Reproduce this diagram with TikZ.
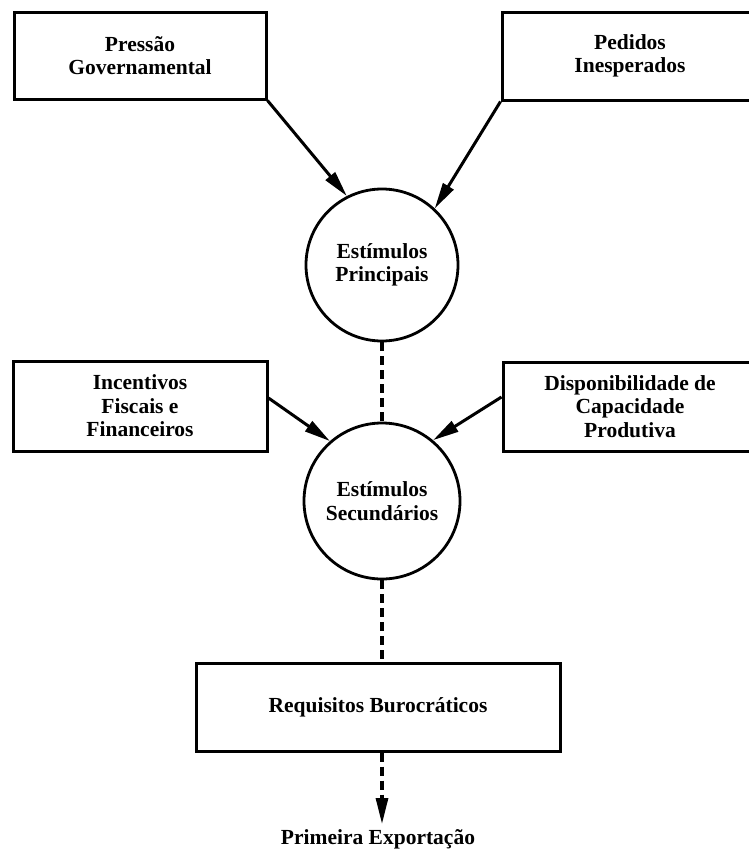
\documentclass[tikz,border=0pt]{standalone}
\usepackage{fontspec}
\setmainfont{Liberation Serif}
\usetikzlibrary{arrows.meta}
\begin{document}
\begin{tikzpicture}[x=1pt,y=-1pt,
  every node/.style={font=\fontsize{21.5}{23.5}\selectfont\bfseries, align=center, inner sep=0pt},
  box/.style={draw, line width=3pt, rectangle},
  stim/.style={draw, line width=2.8pt, circle},
  head/.style={-{Triangle[length=26pt,width=12pt]}},
  link/.style={line width=3pt, head},
  dashlink/.style={line width=3.4pt, dash pattern=on 9pt off 5pt}
]
\useasboundingbox (0,0) rectangle (748,852);

% upper row of sources
\node[box, minimum width=252pt, minimum height=87pt] (gov) at (140,55.5) {Pressão\\Governamental};
\node[box, minimum width=256pt, minimum height=88pt] (ped) at (630,56) {Pedidos\\Inesperados};

% main stimuli
\node[stim, minimum size=152pt] (princ) at (382,265) {Estímulos\\Principais};

% second row of sources
\node[box, minimum width=254pt, minimum height=90pt] (inc) at (140,406) {Incentivos\\Fiscais e\\Financeiros};
\node[box, minimum width=254pt, minimum height=89pt] (disp) at (630,406.5) {Disponibilidade de\\Capacidade\\Produtiva};

% secondary stimuli
\node[stim, minimum size=156pt] (sec) at (382,501) {Estímulos\\Secundários};

% bureaucracy and outcome
\node[box, minimum width=364pt, minimum height=88pt] (req) at (378,707) {Requisitos Burocráticos};
\node[anchor=base] (exp) at (378,844) {Primeira Exportação};
\coordinate (tip) at (382,824);
\coordinate (reqtop) at (sec.south |- req.north);
\coordinate (reqbot) at (sec.south |- req.south);

% connectors
\draw[link] (gov.south east) -- (princ.117);
\draw[link] (ped.south west) -- (princ.47);
\draw[link] ([yshift=8pt]inc.east) -- (sec.131);
\draw[link] ([yshift=9.5pt]disp.west) -- (sec.50);
\draw[dashlink] (princ.south) -- (sec.north);
\draw[dashlink] (sec.south) -- (reqtop);
\draw[dashlink] (reqbot) -- ([yshift=20pt]tip);
\draw[line width=3pt, head] ([yshift=22pt]tip) -- (tip);
\end{tikzpicture}
\end{document}
